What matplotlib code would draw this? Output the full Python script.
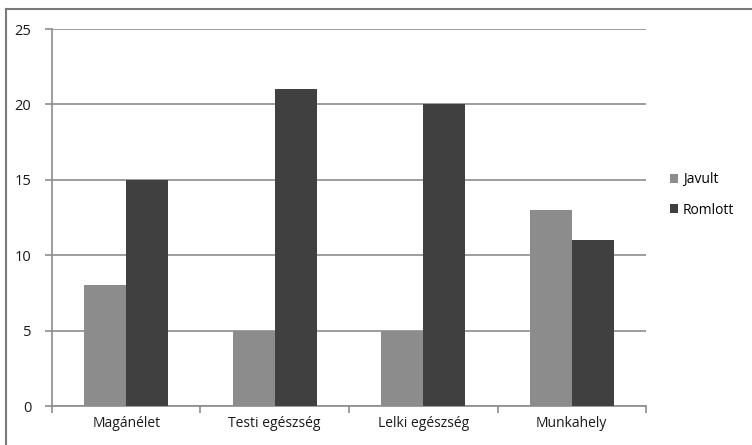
import matplotlib.pyplot as plt
from matplotlib.lines import Line2D
import numpy as np

# Data
categories = ["Magánélet", "Testi egészség", "Lelki egészség", "Munkahely"]
javult = [8, 5, 5, 13]
romlott = [15, 21, 20, 11]
series_names = ["Javult", "Romlott"]
y_ticks = [0, 5, 10, 15, 20, 25]

plt.rcParams["font.family"] = ["Open Sans", "DejaVu Sans"]

fig = plt.figure(figsize=(7.52, 4.45), dpi=100)
ax = fig.add_axes([0.0691, 0.0876, 0.790, 0.847])

x = np.arange(len(categories))
bw = 0.283
ax.bar(x - bw / 2, javult, width=bw, color="#8c8c8c", label=series_names[0], zorder=3)
ax.bar(x + bw / 2, romlott, width=bw, color="#404040", label=series_names[1], zorder=3)

ax.set_xlim(-0.5, len(categories) - 0.5)
ax.set_ylim(0, 25)
ax.set_yticks(y_ticks)
ax.set_yticklabels([str(v) for v in y_ticks], fontsize=10.5, color="#1a1a1a")

# Category labels centred, ticks on group boundaries
ax.set_xticks(np.arange(len(categories) + 1) - 0.5)
ax.set_xticklabels([])
ax.set_xticks(x, minor=True)
ax.set_xticklabels(categories, minor=True, fontsize=10, color="#1a1a1a")
ax.tick_params(axis="x", which="minor", length=0, pad=7)
ax.tick_params(axis="x", which="major", length=5, color="#8c8c8c", width=1.2)
ax.tick_params(axis="y", length=5, color="#8c8c8c", width=1.2, pad=10)

ax.yaxis.grid(True, color="#8c8c8c", lw=1.2, zorder=0)
for side in ["top", "right"]:
    ax.spines[side].set_visible(False)
for side in ["left", "bottom"]:
    ax.spines[side].set_color("#8c8c8c")
    ax.spines[side].set_linewidth(1.2)

leg = ax.legend(loc="center left", bbox_to_anchor=(1.02, 0.56), frameon=False,
                fontsize=10, handlelength=0.55, handleheight=0.55,
                handletextpad=0.35, labelspacing=1.1)

# Outer frame (top and left edges)
fig.add_artist(Line2D([6 / 752, 1.0], [1 - 9 / 445, 1 - 9 / 445],
                      transform=fig.transFigure, color="#7a7a7a", lw=1.5))
fig.add_artist(Line2D([6 / 752, 6 / 752], [0, 1 - 9 / 445],
                      transform=fig.transFigure, color="#7a7a7a", lw=1.5))

fig.savefig("out.png", dpi=100)
